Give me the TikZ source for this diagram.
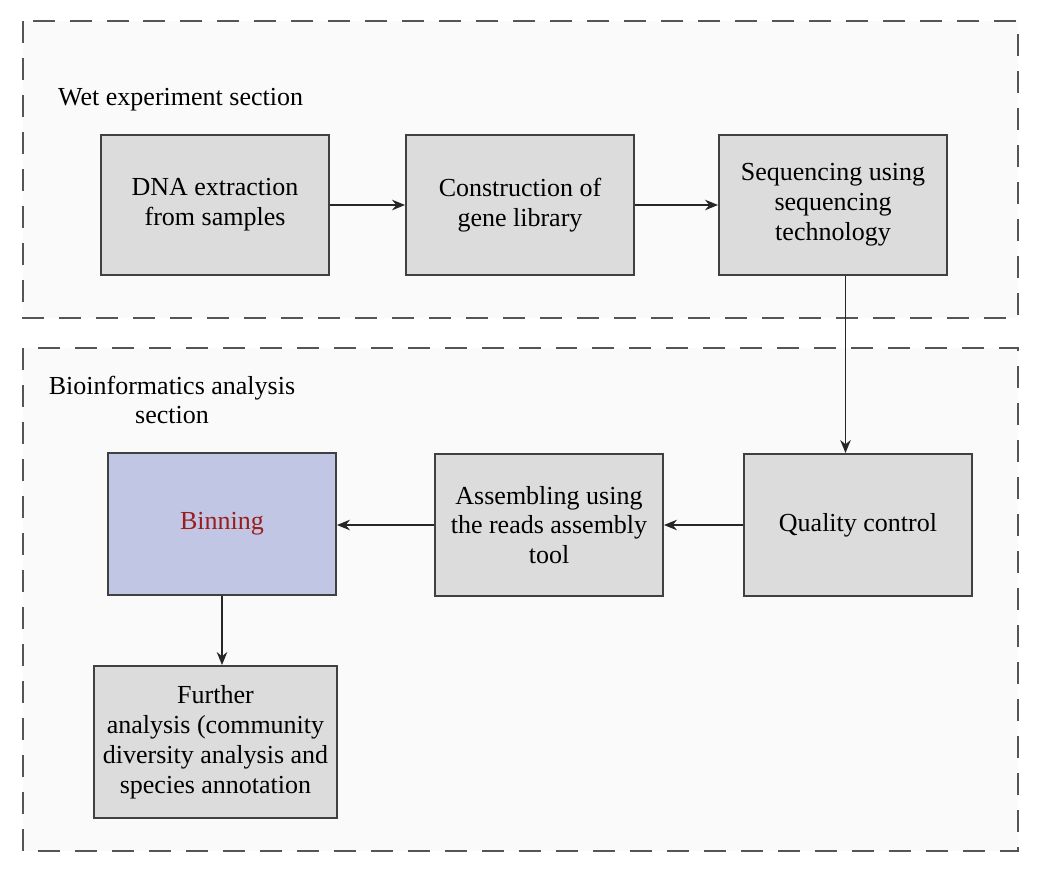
\documentclass[tikz,border=0pt]{standalone}
\usepackage{fontspec}
\setmainfont{Liberation Serif}
\usetikzlibrary{calc,positioning,arrows.meta}

\definecolor{boxgray}{HTML}{DCDCDC}
\definecolor{binblue}{HTML}{C0C6E4}
\definecolor{bintext}{HTML}{9B1C1C}
\definecolor{secfill}{HTML}{FAFAFA}
\definecolor{secline}{HTML}{555555}

\tikzset{
    stepbox/.style = {draw=black!75, line width=1.1pt, fill=boxgray, align=center,
                      inner sep=2pt, minimum width=4.56cm, minimum height=2.8cm},
    arr/.style     = {-{Stealth[length=2.6mm,width=2.1mm]}, line width=0.9pt, black!85},
    sect/.style    = {draw=secline, fill=secfill, line width=1.1pt, dash pattern=on 4.4mm off 3mm}
}

\begin{document}
\begin{tikzpicture}[x=0.02cm, y=-0.02cm, font=\fontsize{14.8}{17}\selectfont]
    \useasboundingbox (0,0) rectangle (1048,869);

    % Sections
    \draw[sect] (23,21)  rectangle (1018,318);
    \draw[sect] (23,348) rectangle (1018,851);

    \node[anchor=west] (wetlbl) at (52,100) {Wet experiment section};
    \node[align=center] (biolbl) at (172,400) {Bioinformatics analysis\\section};

    % Wet experiment
    \node[stepbox] (dna) at (215,205) {DNA extraction\\from samples};
    \node[stepbox] (lib) at (520,205) {Construction of\\gene library};
    \node[stepbox] (seq) at (833,205) {Sequencing using\\sequencing\\technology};

    % Bioinformatics
    \node[stepbox, minimum height=2.84cm] (qc)  at (858,525) {Quality control};
    \node[stepbox, minimum height=2.84cm] (asm) at (549,525) {Assembling using\\the reads assembly\\tool};
    \node[stepbox, minimum height=2.84cm, fill=binblue, text=bintext] (bin) at (222,524) {Binning};
    \node[stepbox, minimum width=4.86cm, minimum height=3.04cm] (fur) at (215.5,742)
        {Further\\analysis (community\\diversity analysis and\\species annotation};

    % Connectors
    \draw[arr] (dna) -- (lib);
    \draw[arr] (lib) -- (seq);
    \coordinate (down) at ($(seq.south)!0.5!(qc.north)$);
    \draw[arr] (seq.south -| down) -- (qc.north -| down);
    \draw[arr] (qc) -- (asm);
    \draw[arr] (asm.west) -- (asm.west -| bin.east);
    \draw[arr] (bin.south) -- (bin.south |- fur.north);

\end{tikzpicture}
\end{document}
